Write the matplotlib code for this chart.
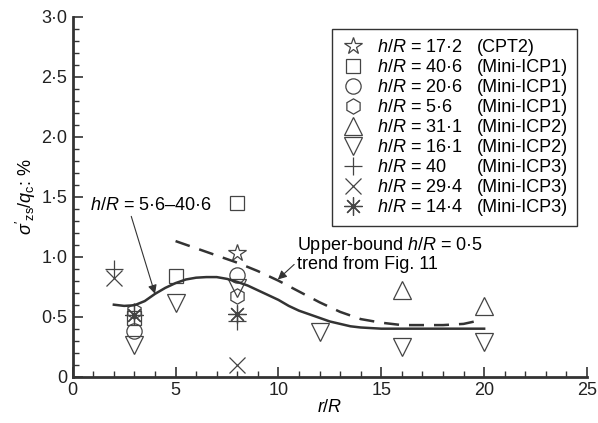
import numpy as np
from matplotlib import pyplot as plt
from matplotlib.patches import Rectangle

plt.rcParams['font.family'] = 'Liberation Sans'
plt.rcParams['mathtext.fontset'] = 'custom'
plt.rcParams['mathtext.rm'] = 'Liberation Sans'
plt.rcParams['mathtext.it'] = 'Liberation Sans:italic'

FS = 13

# measured points (r/R, sigma'_zs/q_c in %)
cpt2_r, cpt2_v = [8], [1.03]
icp1_406_r, icp1_406_v = [3, 5, 8], [0.49, 0.84, 1.45]
icp1_206_r, icp1_206_v = [3, 8], [0.38, 0.85]
icp1_56_r, icp1_56_v = [3, 8], [0.55, 0.67]
icp2_311_r, icp2_311_v = [16, 20], [0.72, 0.59]
icp2_161_r, icp2_161_v = [3, 5, 8, 12, 16, 20], [0.26, 0.61, 0.74, 0.37, 0.25, 0.29]
icp3_40_r, icp3_40_v = [2, 8], [0.90, 0.46]
icp3_294_r, icp3_294_v = [2, 8], [0.82, 0.10]
icp3_144_r, icp3_144_v = [3, 8], [0.51, 0.52]

# trend lines
trend_r = [2, 2.5, 3, 3.5, 4, 4.5, 5, 5.5, 6, 6.5, 7, 7.5, 8, 8.5, 9, 9.5, 10,
           10.5, 11, 11.5, 12, 12.5, 13, 13.5, 14, 14.5, 15, 16, 18, 20]
trend_v = [0.60, 0.59, 0.595, 0.63, 0.69, 0.74, 0.78, 0.81, 0.825, 0.83, 0.83, 0.815,
           0.79, 0.76, 0.72, 0.68, 0.64, 0.59, 0.55, 0.52, 0.49, 0.46, 0.44, 0.42,
           0.41, 0.405, 0.40, 0.40, 0.40, 0.40]
upper_r = [5, 6, 7, 8, 9, 10, 11, 12, 13, 14, 15, 16, 17, 18, 19, 19.8]
upper_v = [1.13, 1.07, 1.01, 0.95, 0.88, 0.80, 0.71, 0.62, 0.54, 0.48, 0.45, 0.43,
           0.43, 0.43, 0.44, 0.47]

hr_labels = ['17·2', '40·6', '20·6', '5·6', '31·1', '16·1', '40', '29·4', '14·4']
test_labels = ['(CPT2)', '(Mini-ICP1)', '(Mini-ICP1)', '(Mini-ICP1)', '(Mini-ICP2)',
               '(Mini-ICP2)', '(Mini-ICP3)', '(Mini-ICP3)', '(Mini-ICP3)']

fig = plt.figure(figsize=(5.98, 4.23), dpi=100)
ax = fig.add_axes([0.1216, 0.1095, 0.86, 0.851])

grey = '#444444'
series = [
    (cpt2_r, cpt2_v, '*', 13),
    (icp1_406_r, icp1_406_v, 's', 10),
    (icp1_206_r, icp1_206_v, 'o', 11),
    (icp1_56_r, icp1_56_v, 'h', 11),
    (icp2_311_r, icp2_311_v, '^', 13),
    (icp2_161_r, icp2_161_v, 'v', 13),
    (icp3_40_r, icp3_40_v, '+', 13),
    (icp3_294_r, icp3_294_v, 'x', 11),
    (icp3_144_r, icp3_144_v, (8, 2, 0), 13),
]
handles = []
for r, v, m, ms in series:
    h, = ax.plot(r, v, linestyle='none', marker=m, markersize=ms,
                 markerfacecolor='none', markeredgecolor=grey, markeredgewidth=0.9)
    handles.append(h)

ax.plot(trend_r, trend_v, color='#333333', linewidth=1.8)
ax.plot(upper_r, upper_v, color='#333333', linewidth=1.8, dashes=(6, 4))

# legend: marker + h/R; test names placed as a second column afterwards
labels = [r'$h$/$R$ = ' + s for s in hr_labels]
leg = ax.legend(handles, labels, loc='upper left', bbox_to_anchor=(0.504, 0.966),
                borderaxespad=0, fontsize=FS, frameon=False, handlelength=1.2,
                handletextpad=0.75, labelspacing=0.17, borderpad=0.55)

ax.annotate(r'$h$/$R$ = 5·6–40·6', xy=(4.0, 0.69), xytext=(0.85, 1.43),
            fontsize=FS, va='center',
            arrowprops=dict(arrowstyle='-|>', color='#333333', lw=0.8,
                            shrinkA=0, shrinkB=0,
                            relpos=(0.33, 0.0)))
ax.annotate('Upper-bound ' + r'$h$/$R$ = 0·5' + '\ntrend from Fig. 11',
            xy=(9.97, 0.81), xytext=(10.9, 1.02), fontsize=FS, va='center',
            linespacing=1.0,
            arrowprops=dict(arrowstyle='-|>', color='#333333', lw=0.8,
                            shrinkA=0, shrinkB=0, relpos=(0.0, 0.3)))

ax.set_xlim(0, 25)
ax.set_ylim(0, 3.0)
ax.set_xticks(np.arange(0, 26, 5))
ax.set_xticks(np.arange(0, 26, 1), minor=True)
ax.set_yticks(np.arange(0, 3.01, 0.5))
ax.set_yticks(np.arange(0, 3.01, 0.1), minor=True)
ax.set_yticklabels(['0', '0·5', '1·0', '1·5', '2·0', '2·5', '3·0'])
ax.tick_params(which='both', direction='in', colors='#333333', labelcolor='#222222',
               labelsize=FS)
ax.tick_params(which='major', length=7, width=1.2, pad=4)
ax.tick_params(which='minor', length=4, width=1.0)
ax.spines['top'].set_visible(False)
ax.spines['right'].set_visible(False)
for side in ['left', 'bottom']:
    ax.spines[side].set_linewidth(2.0)
    ax.spines[side].set_color('#333333')

ax.set_xlabel(r'$r$/$R$', fontsize=FS, labelpad=0)
ax.set_ylabel(r"$\sigma'_{\mathrm{zs}}$/$q_{\mathrm{c}}$: %", fontsize=FS, labelpad=2)

# second legend column, aligned with each legend row
fig.canvas.draw()
renderer = fig.canvas.get_renderer()
inv = ax.transAxes.inverted()
lb = leg.get_window_extent(renderer)
ext = [t.get_window_extent(renderer) for t in leg.get_texts()]
col_x = lb.x0 + 145
extra = []
for e, lab in zip(ext, test_labels):
    x, y = inv.transform((col_x, (e.y0 + e.y1) / 2))
    extra.append(ax.text(x, y, lab, transform=ax.transAxes, fontsize=FS,
                         va='center', ha='left'))
fig.canvas.draw()
right = max(t.get_window_extent(renderer).x1 for t in extra) + 9
(x0, y0) = inv.transform((lb.x0, lb.y0))
(x1, y1) = inv.transform((right, lb.y1))
ax.add_patch(Rectangle((x0, y0), x1 - x0, y1 - y0, transform=ax.transAxes,
                       fill=False, edgecolor='#333333', linewidth=1.0,
                       clip_on=False, zorder=5))

plt.savefig('out.png', dpi=100)
